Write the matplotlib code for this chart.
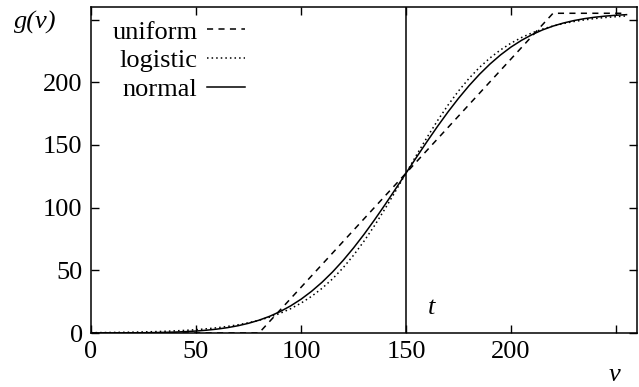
import numpy as np
import matplotlib
matplotlib.use("Agg")
import matplotlib.pyplot as plt

plt.rcParams['font.family'] = ['Liberation Serif', 'DejaVu Serif']

# uniform CDF (scaled)
v_uniform = [0, 80, 220, 255]
g_uniform = [0, 0, 255, 255]

# sample points for the smooth curves
v_curve = list(range(0, 256, 5))

g_logistic = [0.28, 0.35, 0.44, 0.55, 0.69, 0.87, 1.09, 1.36, 1.71, 2.12,
              2.65, 3.36, 4.19, 5.25, 6.55, 8.17, 10.16, 12.62, 15.65, 19.35,
              23.81, 29.21, 35.62, 43.15, 51.93, 61.97, 73.23, 85.63, 99.03, 113.07,
              127.5,
              141.93, 155.97, 169.37, 181.77, 193.03, 203.07, 211.85, 219.38, 225.79,
              231.19, 235.65, 239.35, 242.38, 244.84, 246.83, 248.45, 249.75, 250.81,
              251.64, 252.29, 252.88]

g_normal = [0.02, 0.04, 0.06, 0.09, 0.15, 0.23, 0.34, 0.52, 0.76, 1.10,
            1.58, 2.24, 3.12, 4.28, 5.80, 7.75, 10.22, 13.28, 17.04, 21.57,
            26.93, 33.23, 40.46, 48.65, 57.79, 67.83, 78.67, 90.22, 102.33, 114.83,
            127.5,
            140.17, 152.67, 164.78, 176.33, 187.17, 197.21, 206.35, 214.54, 221.77,
            228.07, 233.43, 237.96, 241.72, 244.78, 247.25, 249.20, 250.72, 251.88,
            252.76, 253.42, 253.90]

t_value = 150

x_ticks = [0, 50, 100, 150, 200, 250]
x_labels = ['0', '50', '100', '150', '200', '']
y_ticks = [0, 50, 100, 150, 200, 250]
y_labels = ['0', '50', '100', '150', '200', '']

fs = 19

fig = plt.figure(figsize=(6.39, 3.87), dpi=100)
ax = fig.add_axes([0.1424, 0.1395, 0.8545, 0.8424])

ax.plot(v_uniform, g_uniform, color='black', lw=1.1, linestyle=(0, (4, 3.5)), label='uniform')
ax.plot(v_curve, g_logistic, color='black', lw=1.1, linestyle=(0, (1, 2)), label='logistic')
ax.plot(v_curve, g_normal, color='black', lw=1.1, linestyle='-', label='normal')
ax.axvline(t_value, color='black', lw=1.1)

ax.text(t_value + 12, 20, 't', fontsize=fs, style='italic', ha='center', va='center')

ax.set_xlim(0, 260)
ax.set_ylim(0, 260)
ax.set_xticks(x_ticks)
ax.set_xticklabels(x_labels)
ax.set_yticks(y_ticks)
ax.set_yticklabels(y_labels)
ax.tick_params(direction='in', length=6, width=1, top=True, right=True,
               labelsize=fs, pad=6, color='black')
for sp in ax.spines.values():
    sp.set_linewidth(1.1)

fig.text(0.055, 0.943, 'g(v)', fontsize=fs, style='italic', ha='center', va='center')
fig.text(0.962, 0.03, 'v', fontsize=fs, style='italic', ha='center', va='center')

ax.legend(loc='upper right', bbox_to_anchor=(0.282, 0.96), markerfirst=False, frameon=False,
          fontsize=fs, handlelength=1.45, handletextpad=0.35, labelspacing=0.2,
          borderaxespad=0.0, borderpad=0.0)

fig.savefig('out.png', dpi=100)
